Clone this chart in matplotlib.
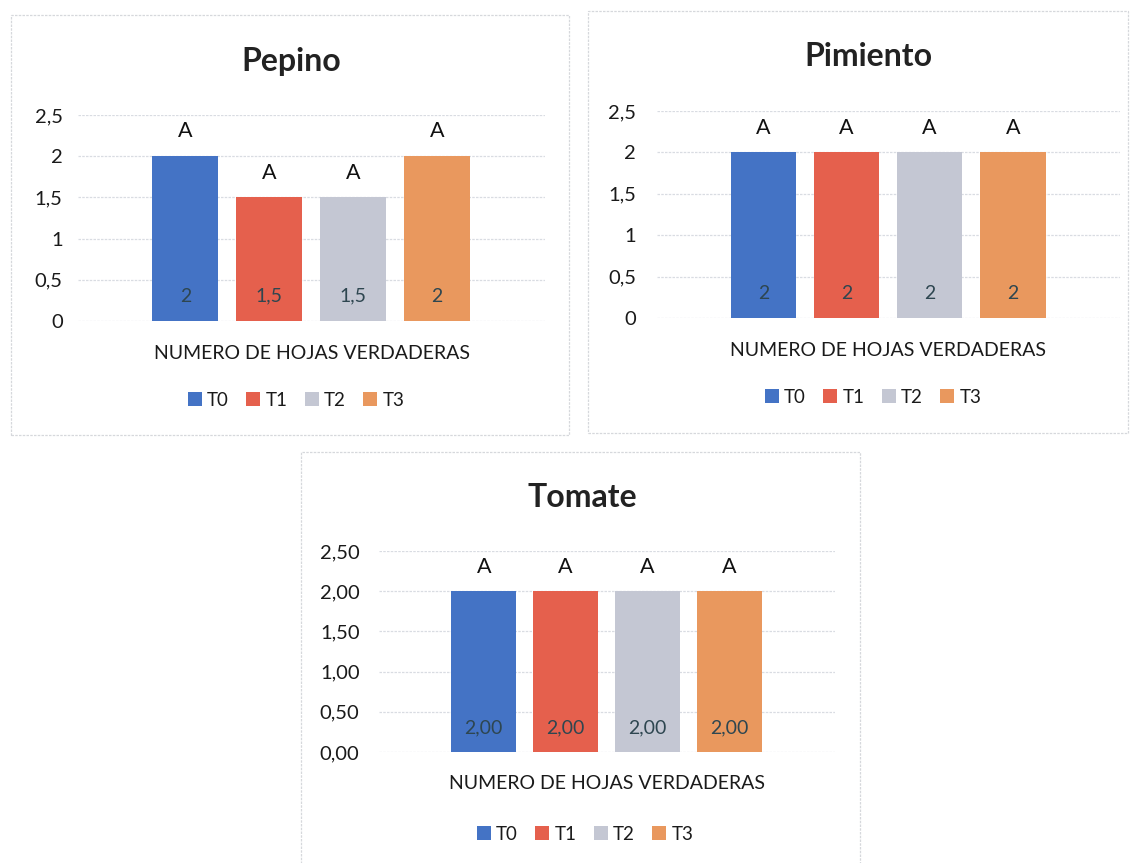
import matplotlib
matplotlib.use("Agg")
import matplotlib.pyplot as plt
from matplotlib.patches import Patch, Rectangle

plt.rcParams['font.family'] = ['Lato', 'DejaVu Sans']

# Data
treatments = ['T0', 'T1', 'T2', 'T3']
colors = ['#4473C5', '#E5604D', '#C4C7D3', '#E9985E']

pepino = [2, 1.5, 1.5, 2]
pimiento = [2, 2, 2, 2]
tomate = [2.00, 2.00, 2.00, 2.00]

pepino_letters = ['A', 'A', 'A', 'A']
pimiento_letters = ['A', 'A', 'A', 'A']
tomate_letters = ['A', 'A', 'A', 'A']

y_ticks = [0, 0.5, 1, 1.5, 2, 2.5]
x_label = 'NUMERO DE HOJAS VERDADERAS'

W, H = 1133, 863
fig = plt.figure(figsize=(W / 100, H / 100), dpi=100)
fig.patch.set_facecolor('white')


def fmt(v, decimals):
    if decimals == 0:
        s = ('%g' % v)
    else:
        s = f'{v:.{decimals}f}'
    return s.replace('.', ',')


def panel(box, ax_px, title, title_xy, legend_xy, values, letters, decimals, tickpad):
    # chart frame
    x0, y0, x1, y1 = box
    fig.patches.append(Rectangle((x0 / W, 1 - y1 / H), (x1 - x0) / W, (y1 - y0) / H,
                                 transform=fig.transFigure, fill=False,
                                 edgecolor='#D6D8DC', linewidth=0.9,
                                 linestyle=(0, (2, 1))))
    l, r, t, b = ax_px
    ax = fig.add_axes([l / W, 1 - b / H, (r - l) / W, (b - t) / H])
    ax.set_facecolor('none')
    xs = list(range(len(values)))
    ax.bar(xs, values, width=0.79, color=colors, zorder=2)
    ax.set_xlim(-1.28, 4.29)
    ax.set_ylim(0, 2.5)
    ax.set_yticks(y_ticks)
    ax.set_yticklabels([fmt(v, decimals) for v in y_ticks])
    ax.tick_params(axis='y', length=0, pad=tickpad, labelsize=14.5, labelcolor='#1a1a1a')
    ax.set_xticks([])
    for s in ax.spines.values():
        s.set_visible(False)
    ax.yaxis.grid(True, color='#D9DCE2', linewidth=0.9, linestyle=(0, (2, 1)), zorder=0)
    ax.set_axisbelow(True)
    for x, v, lt in zip(xs, values, letters):
        ax.text(x, v + 0.3, lt, ha='center', va='center', fontsize=15.5, color='#111111', zorder=3)
        ax.text(x, 0.3, fmt(v, decimals), ha='center', va='center', fontsize=14,
                color='#2E4650', zorder=3)
    ax.text(0.5, -0.158, x_label, transform=ax.transAxes, ha='center', va='center',
            fontsize=14, color='#1a1a1a')
    fig.text(title_xy[0] / W, 1 - title_xy[1] / H, title, ha='center', va='center',
             fontsize=23, fontweight='bold', color='#222222')
    handles = [Patch(facecolor=c, edgecolor='none') for c in colors]
    fig.legend(handles, treatments, loc='center',
               bbox_to_anchor=(legend_xy[0] / W, 1 - legend_xy[1] / H),
               ncol=4, frameon=False, fontsize=13.5, handlelength=0.75, handleheight=0.75,
               handletextpad=0.3, columnspacing=0.9, labelcolor='#1a1a1a')
    return ax


panel((11, 15, 569, 435), (78, 545, 115, 321), 'Pepino', (291, 62), (296, 400),
      pepino, pepino_letters, 0, 11)
panel((588, 11, 1128, 433), (657, 1120, 111, 318), 'Pimiento', (868, 56), (873, 397),
      pimiento, pimiento_letters, 0, 15)
panel((301, 452, 860, 875), (379, 835, 551, 752), 'Tomate', (582, 497), (585, 834),
      tomate, tomate_letters, 2, 14)

fig.savefig('out.png', dpi=100, facecolor='white')
